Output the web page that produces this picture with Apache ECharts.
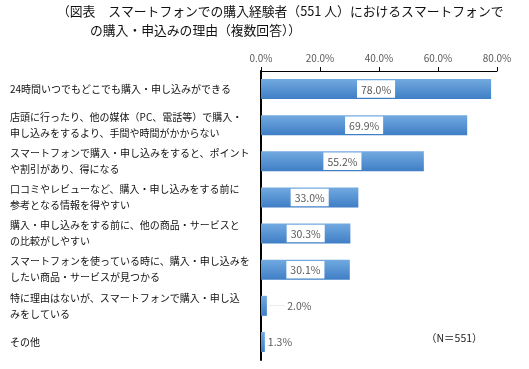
<!DOCTYPE html>
<html><head><meta charset="utf-8">
<script src="https://cdn.jsdelivr.net/npm/echarts@6/dist/echarts.min.js"></script>
<style>html,body{margin:0;padding:0;background:#fff}#c{width:529px;height:369px}</style>
</head><body><div id="c"></div>
<script>
const titleLines = [
  "（図表　スマートフォンでの購入経験者（551 人）におけるスマートフォンで",
  "の購入・申込みの理由（複数回答））"
];
const categories = [
  "24時間いつでもどこでも購入・申し込みができる",
  "店頭に行ったり、他の媒体（PC、電話等）で購入・\n申し込みをするより、手間や時間がかからない",
  "スマートフォンで購入・申し込みをすると、ポイント\nや割引があり、得になる",
  "口コミやレビューなど、購入・申し込みをする前に\n参考となる情報を得やすい",
  "購入・申し込みをする前に、他の商品・サービスと\nの比較がしやすい",
  "スマートフォンを使っている時に、購入・申し込みを\nしたい商品・サービスが見つかる",
  "特に理由はないが、スマートフォンで購入・申し込\nみをしている",
  "その他"
];
const values = [78.0, 69.9, 55.2, 33.0, 30.3, 30.1, 2.0, 1.3];
const xTicks = [0, 20, 40, 60, 80];
const note = "（N＝551）";

const FONT = '"Noto Sans CJK JP", "Noto Sans", sans-serif';
const chart = echarts.init(document.getElementById('c'), null, {renderer: 'canvas'});

const barColor = new echarts.graphic.LinearGradient(0, 0, 0, 1, [
  {offset: 0, color: '#72aae0'},
  {offset: 1, color: '#3f7ec6'}
]);

const data = values.map((v, i) => {
  const small = v < 10;
  return {
    value: v,
    label: small ? {
      position: 'right',
      distance: i === 6 ? 2 : 3,
      backgroundColor: 'transparent',
      padding: 0,
      formatter: i === 6 ? '{l|──} {v|' + v.toFixed(1) + '%}' : '{v|' + v.toFixed(1) + '%}'
    } : {}
  };
});

chart.setOption({
  animation: false,
  backgroundColor: '#fff',
  graphic: [
    {type: 'text', left: 57, top: 5, style: {text: titleLines[0], font: '12.8px ' + FONT, fill: '#111'}},
    {type: 'text', left: 90, top: 24, style: {text: titleLines[1], font: '12.8px ' + FONT, fill: '#111'}},
    {type: 'text', left: 426, top: 333, style: {text: note, font: '10.5px ' + FONT, fill: '#222'}}
  ],
  grid: {left: 261, right: 32, top: 71, bottom: 9, containLabel: false},
  xAxis: {
    type: 'value', position: 'top', min: 0, max: 80, interval: 20,
    axisLine: {show: true, lineStyle: {color: '#000', width: 1}},
    axisTick: {show: true, length: 4, lineStyle: {color: '#000'}},
    splitLine: {show: false},
    axisLabel: {
      margin: 8, color: '#595959', fontSize: 10, fontFamily: FONT,
      formatter: v => xTicks.includes(v) ? v.toFixed(1) + '%' : ''
    }
  },
  yAxis: {
    type: 'category', inverse: true, data: categories,
    axisLine: {show: true, lineStyle: {color: '#000', width: 2}},
    axisTick: {show: false},
    axisLabel: {
      align: 'left', margin: 251, color: '#111', fontSize: 10, lineHeight: 16, fontFamily: FONT
    }
  },
  series: [{
    type: 'bar', data: data, barWidth: 20,
    itemStyle: {color: barColor},
    label: {
      show: true, position: 'inside', color: '#595959', fontSize: 10.5, fontFamily: FONT,
      backgroundColor: '#fff', padding: [4, 4, 3, 4],
      formatter: p => p.value.toFixed(1) + '%',
      rich: {
        l: {color: '#c8c8c8', fontSize: 8, fontFamily: FONT},
        v: {color: '#595959', fontSize: 10.5, fontFamily: FONT}
      }
    }
  }]
});
</script></body></html>
